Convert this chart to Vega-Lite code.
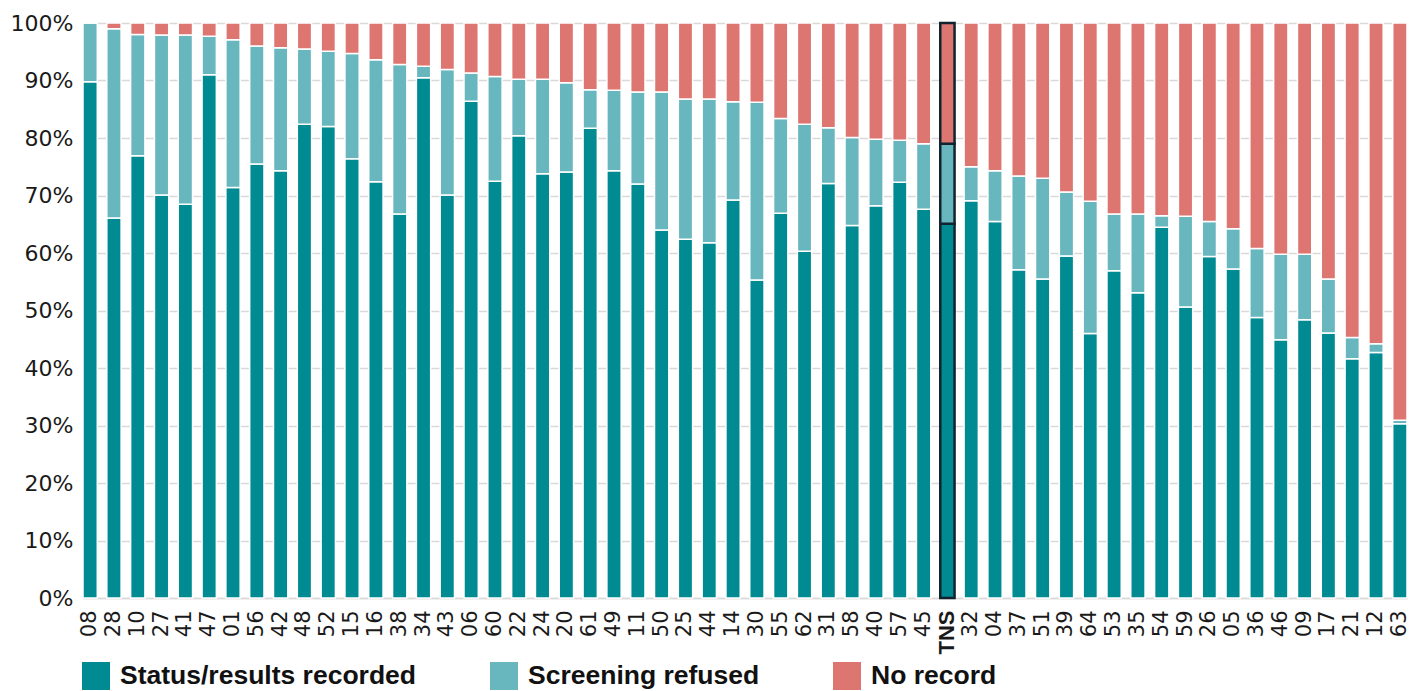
{
  "$schema": "https://vega.github.io/schema/vega-lite/v6.json",
  "autosize": {"type": "none"},
  "padding": {"left": 83, "top": 23, "right": 14, "bottom": 93},
  "width": 1324,
  "height": 575,
  "background": "white",
  "config": {
    "view": {"stroke": null},
    "axis": {"grid": false, "ticks": false, "tickSize": 0, "title": null}
  },
  "data": {
    "values": [
      {"area": "08", "Status/results recorded": 89.8, "Screening refused": 10.2, "No record": 0.0},
      {"area": "28", "Status/results recorded": 66.1, "Screening refused": 32.9, "No record": 1.0},
      {"area": "10", "Status/results recorded": 76.9, "Screening refused": 21.1, "No record": 2.0},
      {"area": "27", "Status/results recorded": 70.1, "Screening refused": 27.8, "No record": 2.1},
      {"area": "41", "Status/results recorded": 68.5, "Screening refused": 29.4, "No record": 2.1},
      {"area": "47", "Status/results recorded": 91.0, "Screening refused": 6.7, "No record": 2.3},
      {"area": "01", "Status/results recorded": 71.4, "Screening refused": 25.7, "No record": 2.9},
      {"area": "56", "Status/results recorded": 75.5, "Screening refused": 20.5, "No record": 4.0},
      {"area": "42", "Status/results recorded": 74.3, "Screening refused": 21.4, "No record": 4.3},
      {"area": "48", "Status/results recorded": 82.4, "Screening refused": 13.1, "No record": 4.5},
      {"area": "52", "Status/results recorded": 82.0, "Screening refused": 13.1, "No record": 4.9},
      {"area": "15", "Status/results recorded": 76.4, "Screening refused": 18.3, "No record": 5.3},
      {"area": "16", "Status/results recorded": 72.4, "Screening refused": 21.2, "No record": 6.4},
      {"area": "38", "Status/results recorded": 66.8, "Screening refused": 26.0, "No record": 7.2},
      {"area": "34", "Status/results recorded": 90.5, "Screening refused": 2.0, "No record": 7.5},
      {"area": "43", "Status/results recorded": 70.1, "Screening refused": 21.8, "No record": 8.1},
      {"area": "06", "Status/results recorded": 86.4, "Screening refused": 4.9, "No record": 8.7},
      {"area": "60", "Status/results recorded": 72.5, "Screening refused": 18.2, "No record": 9.3},
      {"area": "22", "Status/results recorded": 80.4, "Screening refused": 9.8, "No record": 9.8},
      {"area": "24", "Status/results recorded": 73.8, "Screening refused": 16.4, "No record": 9.8},
      {"area": "20", "Status/results recorded": 74.1, "Screening refused": 15.5, "No record": 10.4},
      {"area": "61", "Status/results recorded": 81.7, "Screening refused": 6.7, "No record": 11.6},
      {"area": "49", "Status/results recorded": 74.3, "Screening refused": 14.0, "No record": 11.7},
      {"area": "11", "Status/results recorded": 72.0, "Screening refused": 16.0, "No record": 12.0},
      {"area": "50", "Status/results recorded": 64.0, "Screening refused": 24.0, "No record": 12.0},
      {"area": "25", "Status/results recorded": 62.4, "Screening refused": 24.4, "No record": 13.2},
      {"area": "44", "Status/results recorded": 61.8, "Screening refused": 25.0, "No record": 13.2},
      {"area": "14", "Status/results recorded": 69.2, "Screening refused": 17.1, "No record": 13.7},
      {"area": "30", "Status/results recorded": 55.3, "Screening refused": 30.9, "No record": 13.8},
      {"area": "55", "Status/results recorded": 66.9, "Screening refused": 16.5, "No record": 16.6},
      {"area": "62", "Status/results recorded": 60.3, "Screening refused": 22.1, "No record": 17.6},
      {"area": "31", "Status/results recorded": 72.1, "Screening refused": 9.7, "No record": 18.2},
      {"area": "58", "Status/results recorded": 64.8, "Screening refused": 15.3, "No record": 19.9},
      {"area": "40", "Status/results recorded": 68.2, "Screening refused": 11.6, "No record": 20.2},
      {"area": "57", "Status/results recorded": 72.3, "Screening refused": 7.3, "No record": 20.4},
      {"area": "45", "Status/results recorded": 67.6, "Screening refused": 11.4, "No record": 21.0},
      {"area": "TNS", "Status/results recorded": 65.1, "Screening refused": 13.9, "No record": 21.0},
      {"area": "32", "Status/results recorded": 69.1, "Screening refused": 5.9, "No record": 25.0},
      {"area": "04", "Status/results recorded": 65.5, "Screening refused": 8.8, "No record": 25.7},
      {"area": "37", "Status/results recorded": 57.1, "Screening refused": 16.3, "No record": 26.6},
      {"area": "51", "Status/results recorded": 55.5, "Screening refused": 17.5, "No record": 27.0},
      {"area": "39", "Status/results recorded": 59.5, "Screening refused": 11.1, "No record": 29.4},
      {"area": "64", "Status/results recorded": 46.0, "Screening refused": 23.0, "No record": 31.0},
      {"area": "53", "Status/results recorded": 56.9, "Screening refused": 9.9, "No record": 33.2},
      {"area": "35", "Status/results recorded": 53.1, "Screening refused": 13.7, "No record": 33.2},
      {"area": "54", "Status/results recorded": 64.5, "Screening refused": 2.0, "No record": 33.5},
      {"area": "59", "Status/results recorded": 50.6, "Screening refused": 15.8, "No record": 33.6},
      {"area": "26", "Status/results recorded": 59.4, "Screening refused": 6.1, "No record": 34.5},
      {"area": "05", "Status/results recorded": 57.2, "Screening refused": 7.0, "No record": 35.8},
      {"area": "36", "Status/results recorded": 48.8, "Screening refused": 12.0, "No record": 39.2},
      {"area": "46", "Status/results recorded": 44.9, "Screening refused": 14.9, "No record": 40.2},
      {"area": "09", "Status/results recorded": 48.4, "Screening refused": 11.4, "No record": 40.2},
      {"area": "17", "Status/results recorded": 46.1, "Screening refused": 9.4, "No record": 44.5},
      {"area": "21", "Status/results recorded": 41.6, "Screening refused": 3.7, "No record": 54.7},
      {"area": "12", "Status/results recorded": 42.7, "Screening refused": 1.5, "No record": 55.8},
      {"area": "63", "Status/results recorded": 30.3, "Screening refused": 0.6, "No record": 69.1}
    ]
  },
  "transform": [
    {"fold": ["Status/results recorded", "Screening refused", "No record"], "as": ["category", "pct"]}
  ],
  "mark": {"type": "bar"},
  "encoding": {
    "x": {
      "field": "area",
      "type": "nominal",
      "sort": null,
      "scale": {"paddingInner": 0.4, "paddingOuter": 0},
      "axis": {
        "labelAngle": 270,
        "labelPadding": 12,
        "labelFont": {"condition": {"test": "datum.value == 'TNS'", "value": "Liberation Sans"}, "value": "DejaVu Sans"},
        "labelFontWeight": {"condition": {"test": "datum.value == 'TNS'", "value": "bold"}, "value": "normal"},
        "labelFontSize": {"condition": {"test": "datum.value == 'TNS'", "value": 22}, "value": 21},
        "labelColor": "#1a1a1a",
        "domain": true,
        "domainColor": "#d9d9d9",
        "domainWidth": 1.5
      }
    },
    "y": {
      "field": "pct",
      "type": "quantitative",
      "stack": "zero",
      "scale": {"domain": [0, 100], "nice": false},
      "axis": {
        "values": [0, 10, 20, 30, 40, 50, 60, 70, 80, 90, 100],
        "labelExpr": "datum.value + '%'",
        "grid": true,
        "gridColor": "#d9d9d9",
        "gridWidth": 1.5,
        "domain": false,
        "labelFont": "DejaVu Sans",
        "labelFontSize": 22,
        "labelColor": "#1a1a1a",
        "labelPadding": 10
      }
    },
    "color": {
      "field": "category",
      "type": "nominal",
      "scale": {
        "domain": ["Status/results recorded", "Screening refused", "No record"],
        "range": ["#008a91", "#68b7be", "#dd7571"]
      },
      "legend": {
        "title": null,
        "orient": "none",
        "legendX": -1,
        "legendY": 639,
        "direction": "horizontal",
        "padding": 0,
        "columnPadding": 73,
        "symbolType": "square",
        "symbolSize": 784,
        "symbolStrokeWidth": 0,
        "symbolOpacity": 1,
        "labelFont": "Liberation Sans",
        "labelFontWeight": "bold",
        "labelFontSize": 26.5,
        "labelColor": "#111111",
        "labelOffset": 10,
        "labelLimit": 450
      }
    },
    "order": {"field": "category", "sort": "descending"},
    "stroke": {"condition": {"test": "datum.area == 'TNS'", "value": "#10232f"}, "value": "#ffffff"},
    "strokeWidth": {"condition": {"test": "datum.area == 'TNS'", "value": 2.5}, "value": 1.5}
  }
}
